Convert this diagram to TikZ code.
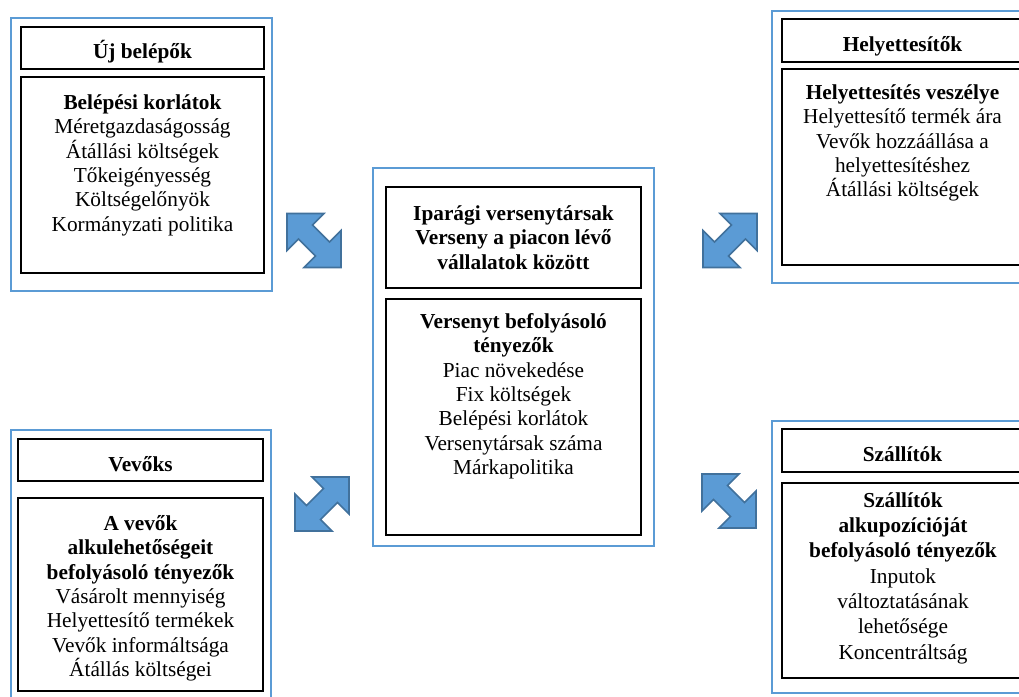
\documentclass[tikz,border=0pt]{standalone}
\usepackage{fontspec}
\setmainfont{Liberation Serif}

\definecolor{frameblue}{HTML}{5B9BD5}
\definecolor{arrowfill}{HTML}{5B9BD5}
\definecolor{arrowline}{HTML}{41719C}

% height of the first text line, so that text nodes can be placed by baseline
\newcommand\lnstrut{\rule{0pt}{20pt}}
\newcommand\boxfont{\fontsize{21.3}{24.4}\selectfont}

\tikzset{
  frame/.style={draw=frameblue, line width=2.4pt, rectangle, inner sep=0pt},
  inbox/.style={draw=black, line width=1.2pt, rectangle, inner sep=0pt},
  label/.style={inner sep=0pt, font=\boxfont},
  textblock/.style={anchor=north, inner sep=0pt, align=center, font=\boxfont},
  arrowshape/.style={fill=arrowfill, draw=arrowline, line width=1.6pt, line join=miter},
  dblarrow/.pic={
    \draw[arrowshape] (-27,-27) -- (10,-27) -- (-1.5,-15.5) -- (15.5,1.5)
      -- (27,-10) -- (27,27) -- (-10,27) -- (1.5,15.5) -- (-15.5,-1.5)
      -- (-27,10) -- cycle;
  }
}

\begin{document}
\begin{tikzpicture}[x=1pt, y=-1pt]
\useasboundingbox (0,0) rectangle (1019,696);
\fill[white] (0,0) rectangle (1019,696);
\clip (0,0) rectangle (1019,696);

% ---------- new entrants (top left)
\node[frame, minimum width=261pt, minimum height=273pt] (tl) at (141.5,154.5) {};
\node[inbox, minimum width=243pt, minimum height=42pt] (tlhead) at (142.5,48) {};
\node[inbox, minimum width=243pt, minimum height=196pt] (tlbody) at (142.5,175) {};
\node[label, anchor=base] (tlheadtxt) at (142.5,58.5) {\textbf{Új belépők}};
\node[textblock] (tlbodytxt) at (142.5,89) {\lnstrut\textbf{Belépési korlátok}\\
  Méretgazdaságosság\\Átállási költségek\\Tőkeigényesség\\Költségelőnyök\\Kormányzati politika};

% ---------- substitutes (top right)
\node[frame, minimum width=261pt, minimum height=272pt] (tr) at (902.5,147) {};
\node[inbox, minimum width=241pt, minimum height=43pt] (trhead) at (902.5,40.5) {};
\node[inbox, minimum width=241pt, minimum height=196pt] (trbody) at (902.5,167) {};
\node[label, anchor=base] (trheadtxt) at (902.5,51) {\textbf{Helyettesítők}};
\node[textblock] (trbodytxt) at (902.5,79) {\lnstrut\textbf{Helyettesítés veszélye}\\
  Helyettesítő termék ára\\Vevők hozzáállása a\\helyettesítéshez\\Átállási költségek};

% ---------- industry rivals (centre)
\node[frame, minimum width=281pt, minimum height=378pt] (c) at (513.5,357) {};
\node[inbox, minimum width=255pt, minimum height=101pt] (chead) at (513.5,237.5) {};
\node[inbox, minimum width=255pt, minimum height=236pt] (cbody) at (513.5,417) {};
\node[textblock, font=\boxfont\bfseries] (cheadtxt) at (513.5,200) {\lnstrut Iparági versenytársak\\
  Verseny a piacon lévő\\vállalatok között};
\node[textblock] (cbodytxt) at (513.5,308) {\lnstrut\textbf{Versenyt befolyásoló}\\\textbf{tényezők}\\
  Piac növekedése\\Fix költségek\\Belépési korlátok\\Versenytársak száma\\Márkapolitika};

% ---------- buyers (bottom left)
\node[frame, minimum width=260pt, minimum height=276pt] (bl) at (141,568) {};
\node[inbox, minimum width=245pt, minimum height=42pt] (blhead) at (140.5,460) {};
\node[inbox, minimum width=245pt, minimum height=193pt] (blbody) at (140.5,594.5) {};
\node[label, anchor=base] (blheadtxt) at (140.5,471) {\textbf{Vevőks}};
\node[textblock] (blbodytxt) at (140.5,510) {\lnstrut\textbf{A vevők}\\\textbf{alkulehetőségeit}\\
  \textbf{befolyásoló tényezők}\\Vásárolt mennyiség\\Helyettesítő termékek\\Vevők informáltsága\\Átállás költségei};

% ---------- suppliers (bottom right)
\node[frame, minimum width=261pt, minimum height=272pt] (br) at (902.5,557) {};
\node[inbox, minimum width=241pt, minimum height=43pt] (brhead) at (902.5,450.5) {};
\node[inbox, minimum width=241pt, minimum height=195pt] (brbody) at (902.5,580.5) {};
\node[label, anchor=base] (brheadtxt) at (902.5,461.5) {\textbf{Szállítók}};
\node[textblock, font=\fontsize{21.3}{25.3}\selectfont] (brbodytxt) at (903,487) {\lnstrut\textbf{Szállítók}\\
  \textbf{alkupozícióját}\\\textbf{befolyásoló tényezők}\\Inputok\\változtatásának\\lehetősége\\Koncentráltság};

% ---------- two-headed block arrows between the forces
\pic (artl) at (314,240.5) {dblarrow};
\pic[xscale=-1] (artr) at (730,240.5) {dblarrow};
\pic[xscale=-1] (arbl) at (322,504) {dblarrow};
\pic (arbr) at (729,501) {dblarrow};
\end{tikzpicture}
\end{document}
